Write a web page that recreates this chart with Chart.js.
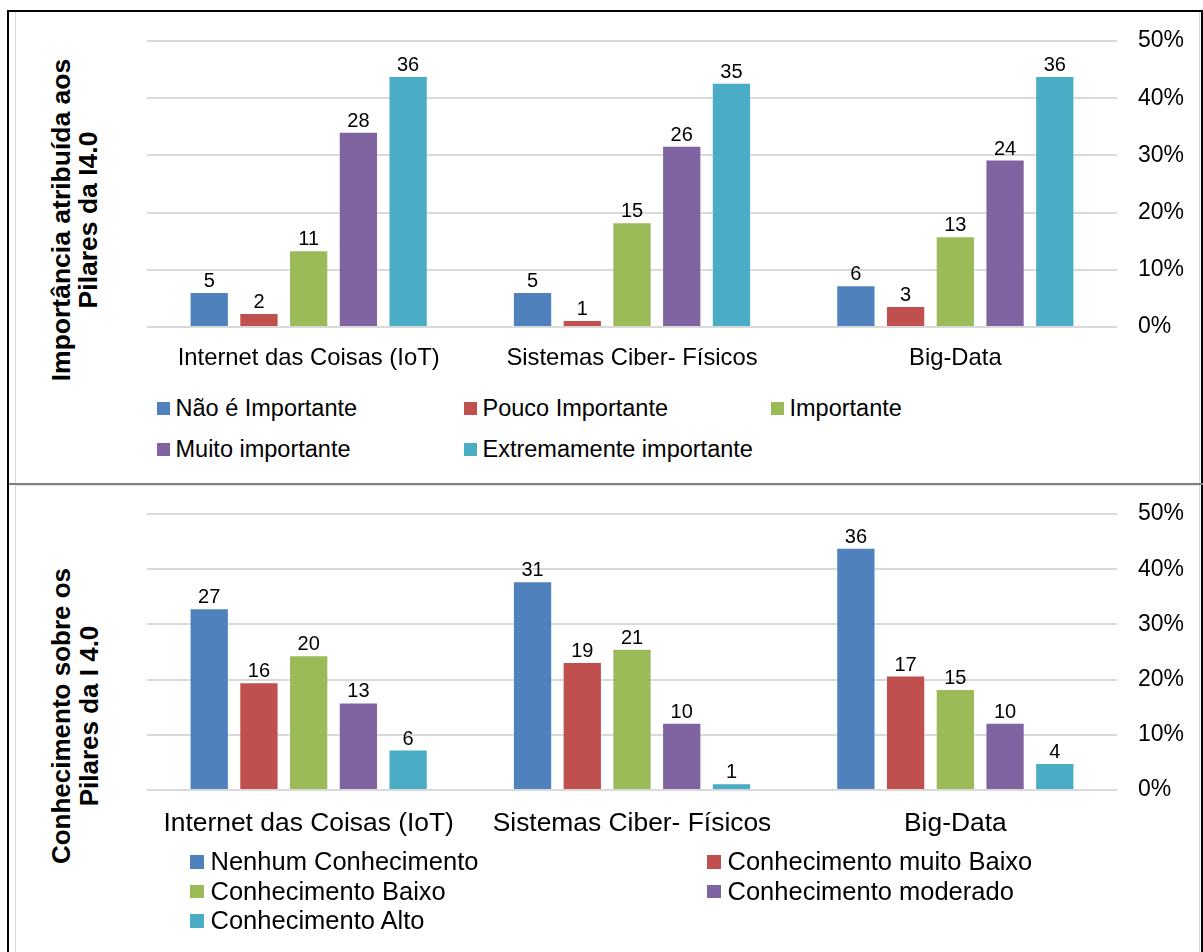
<!DOCTYPE html>
<html lang="pt">
<head>
<meta charset="utf-8">
<title>Pilares da I4.0</title>
<script src="https://cdn.jsdelivr.net/npm/chart.js@4.4.1/dist/chart.umd.min.js"></script>
<style>
  body { margin: 0; background: #fff; font-family: "Liberation Sans", Arial, sans-serif; color: #000; }
  #pagina { position: relative; width: 1203px; height: 952px; overflow: hidden; background: #fff; }
  .abs { position: absolute; }
  .moldura { left: 7px; top: 10px; width: 1196px; height: 950px; box-sizing: border-box;
    border-left: 2px solid #000; border-top: 2px solid #000; border-right: 2px solid #000; }
  .interno { left: 15px; top: 12px; width: 1185px; height: 940px; box-sizing: border-box;
    border-left: 1px solid #d9d9d9; border-right: 1px solid #d9d9d9; }
  .divisoria { left: 9px; top: 483px; width: 1194px; height: 2px; background: #7f7f7f; }
  .divisoria2 { left: 16px; top: 485px; width: 1183px; height: 1px; background: #e3e3e3; }
  .titulo { font-weight: bold; text-align: center; white-space: nowrap; transform: rotate(-90deg); }
  .legenda { display: grid; }
  .item { display: flex; align-items: center; white-space: nowrap; }
  .item span.q { display: inline-block; flex: none; }
</style>
</head>
<body>
<div id="pagina">
  <div class="abs moldura"></div>
  <div class="abs interno"></div>
  <div class="abs divisoria"></div>
  <div class="abs divisoria2"></div>

  <div class="abs titulo" id="titulo1" style="left:-125px; top:193px; width:400px; height:54px; font-size:26.5px; line-height:27px;">Importância atribuída aos<br>Pilares da I4.0</div>
  <canvas class="abs" id="grafico1" width="1182" height="372" style="left:17px; top:13px;"></canvas>
  <div class="abs legenda" id="legenda1" style="left:157px; top:388px; grid-template-columns: repeat(3, 307px); grid-auto-rows: 41px; font-size:23.5px;"></div>

  <div class="abs titulo" id="titulo2" style="left:-125px; top:688px; width:400px; height:56px; font-size:26px; line-height:28px;">Conhecimento sobre os<br>Pilares da I 4.0</div>
  <canvas class="abs" id="grafico2" width="1182" height="370" style="left:17px; top:486px;"></canvas>
  <div class="abs legenda" id="legenda2" style="left:190px; top:847px; grid-template-columns: repeat(2, 517px); grid-auto-rows: 29.5px; font-size:25.5px;"></div>
</div>

<script>
const categorias = ["Internet das Coisas (IoT)", "Sistemas Ciber- Físicos", "Big-Data"];
const respondentes = 82;

const nomesImportancia = [
  "Não é Importante",
  "Pouco Importante",
  "Importante",
  "Muito importante",
  "Extremamente importante",
];
const naoImportante = [5, 5, 6];
const poucoImportante = [2, 1, 3];
const importante = [11, 15, 13];
const muitoImportante = [28, 26, 24];
const extremamenteImportante = [36, 35, 36];

const nomesConhecimento = [
  "Nenhum Conhecimento",
  "Conhecimento muito Baixo",
  "Conhecimento Baixo",
  "Conhecimento moderado",
  "Conhecimento Alto",
];
const nenhumConhecimento = [27, 31, 36];
const conhecimentoMuitoBaixo = [16, 19, 17];
const conhecimentoBaixo = [20, 21, 15];
const conhecimentoModerado = [13, 10, 10];
const conhecimentoAlto = [6, 1, 4];

const ticksPercentuais = [0, 10, 20, 30, 40, 50];
const cores = ["#4F81BD", "#C0504D", "#9BBB59", "#8064A2", "#4BACC6"];
const fonte = "'Liberation Sans', Arial, sans-serif";

// escreve a contagem de respostas em cima de cada barra
const rotulos = {
  id: "rotulos",
  afterDatasetsDraw(chart, args, opts) {
    const ctx = chart.ctx;
    ctx.save();
    ctx.font = opts.size + "px " + fonte;
    ctx.fillStyle = "#000";
    ctx.textAlign = "center";
    ctx.textBaseline = "alphabetic";
    chart.data.datasets.forEach((ds, i) => {
      chart.getDatasetMeta(i).data.forEach((bar, j) => {
        ctx.fillText(ds.contagens[j], bar.x, bar.y - opts.offset);
      });
    });
    ctx.restore();
  },
};

const montarDatasets = function (nomes, series) {
  return nomes.map((nome, i) => ({
    label: nome,
    data: series[i].map((c) => (c / respondentes) * 100),
    contagens: series[i],
    backgroundColor: cores[i],
    borderColor: "rgba(255,255,255,0.35)",
    borderWidth: 1,
    borderSkipped: "bottom",
    categoryPercentage: 0.769,
    barPercentage: 0.79,
  }));
};

const montarLegenda = function (id, nomes, tamanho, espaco) {
  const el = document.getElementById(id);
  nomes.forEach((nome, i) => {
    const item = document.createElement("div");
    item.className = "item";
    const q = document.createElement("span");
    q.className = "q";
    q.style.width = tamanho + "px";
    q.style.height = tamanho + "px";
    q.style.marginRight = espaco + "px";
    q.style.background = cores[i];
    item.appendChild(q);
    item.appendChild(document.createTextNode(nome));
    el.appendChild(item);
  });
};

const criarGrafico = function (id, nomes, series, m) {
  return new Chart(document.getElementById(id), {
    type: "bar",
    data: {
      labels: categorias,
      datasets: montarDatasets(nomes, series),
    },
    options: {
      responsive: false,
      animation: false,
      layout: { padding: { left: 130, top: m.topo, right: 0, bottom: 0 } },
      plugins: {
        legend: { display: false },
        tooltip: { enabled: false },
        rotulos: { size: 20, offset: 5 },
      },
      scales: {
        x: {
          grid: { display: false },
          border: { display: false },
          ticks: {
            color: "#000",
            font: { family: fonte, size: m.fonteCategoria },
            padding: m.paddingCategoria,
            maxRotation: 0,
            autoSkip: false,
          },
          afterFit: (s) => {
            s.height = m.alturaX;
          },
        },
        y: {
          position: "right",
          min: 0,
          max: 50,
          afterBuildTicks: (s) => {
            s.ticks = ticksPercentuais.map((v) => ({ value: v }));
          },
          ticks: {
            callback: (v) => v + "%",
            color: "#000",
            font: { family: fonte, size: 23 },
            padding: 0,
          },
          // marca invisível só para afastar os rótulos do gráfico
          grid: {
            color: "#d9d9d9",
            lineWidth: 2,
            drawTicks: true,
            tickLength: 21,
            tickColor: "rgba(0,0,0,0)",
          },
          border: { display: false },
          afterFit: (s) => {
            s.width = 82;
          },
        },
      },
    },
    plugins: [rotulos],
  });
};

criarGrafico(
  "grafico1",
  nomesImportancia,
  [naoImportante, poucoImportante, importante, muitoImportante, extremamenteImportante],
  { topo: 28, alturaX: 58, fonteCategoria: 23.8, paddingCategoria: 9 }
);
criarGrafico(
  "grafico2",
  nomesConhecimento,
  [nenhumConhecimento, conhecimentoMuitoBaixo, conhecimentoBaixo, conhecimentoModerado, conhecimentoAlto],
  { topo: 28, alturaX: 66, fonteCategoria: 26.4, paddingCategoria: 10 }
);

montarLegenda("legenda1", nomesImportancia, 12.5, 6);
montarLegenda("legenda2", nomesConhecimento, 13.5, 7);
</script>
</body>
</html>
